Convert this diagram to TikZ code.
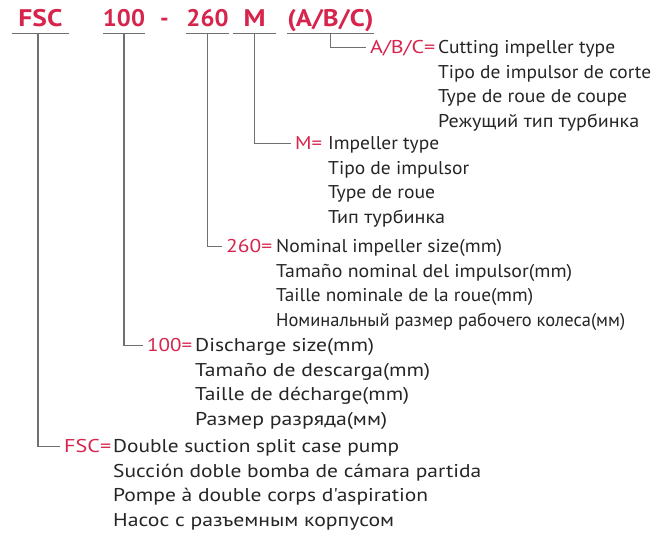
\documentclass[tikz,border=0pt]{standalone}
\usepackage{fontspec}
\setmainfont{PT Sans}[Ligatures=TeXOff]
\usepackage{graphicx}
\usetikzlibrary{positioning}
\definecolor{codered}{RGB}{214,36,76}
\definecolor{linegray}{RGB}{112,112,112}
\definecolor{textgray}{RGB}{38,36,36}
\newcommand{\fitw}[2]{\resizebox{#1pt}{\height}{#2}}

\begin{document}
\begin{tikzpicture}[x=1pt, y=-1pt,
	hdr/.style={font=\fontsize{24}{28}\selectfont\bfseries, text=codered, inner xsep=0pt, inner ysep=6pt, text depth=0pt, anchor=base},
	lbl/.style={font=\fontsize{18.5}{22}\selectfont, text=codered, inner xsep=4pt, inner ysep=0pt, text height=13pt, text depth=0pt, anchor=base west},
	txt/.style={font=\fontsize{18.5}{22}\selectfont, text=textgray, inner sep=0pt, anchor=base west},
	conn/.style={draw=linegray, line width=1.2pt}]
	\useasboundingbox (0,0) rectangle (654,534);
	
	% model code
	\node[hdr, minimum width=57pt] (fsc) at (40.5,27) {\fitw{44}{FSC}};
	\node[hdr, minimum width=34pt] (dis) at (124,27) {\fitw{42}{100}};
	\node[hdr] (dash) at (164.5,27) {-};
	\node[hdr, minimum width=39pt] (size) at (207.5,27) {\fitw{42}{260}};
	\node[hdr, minimum width=43pt] (imp) at (254.5,27) {\fitw{22}{M}};
	\node[hdr, minimum width=83pt] (cut) at (330.5,27) {\fitw{86}{(A/B/C)}};
	\foreach \n in {fsc,dis,size,imp,cut}
		\draw[conn] (\n.south west) -- (\n.south east);
	
	% A/B/C
	\node[lbl] (cutL) at (366,54) {\fitw{65}{A/B/C=}};
	\node[txt] (cut1) at (438,54) {\fitw{177}{Cutting impeller type}};
	\node[txt, below=24.4pt of cut1.base west, anchor=base west] (cut2) {\fitw{213}{Tipo de impulsor de corte}};
	\node[txt, below=24.4pt of cut2.base west, anchor=base west] (cut3) {\fitw{189}{Type de roue de coupe}};
	\node[txt, below=24.4pt of cut3.base west, anchor=base west] (cut4) {\fitw{201}{Режущий тип турбинка}};
	
	% M
	\node[lbl] (impL) at (291,150) {\fitw{27}{M=}};
	\node[txt] (imp1) at (328,150) {\fitw{111}{Impeller type}};
	\node[txt, below=24.4pt of imp1.base west, anchor=base west] (imp2) {\fitw{141}{Tipo de impulsor}};
	\node[txt, below=24.4pt of imp2.base west, anchor=base west] (imp3) {\fitw{107}{Type de roue}};
	\node[txt, below=24.4pt of imp3.base west, anchor=base west] (imp4) {\fitw{117}{Тип турбинка}};
	
	% 260
	\node[lbl] (sizeL) at (222,253) {\fitw{46}{260=}};
	\node[txt] (size1) at (276,253) {\fitw{226}{Nominal impeller size(mm)}};
	\node[txt, below=24.4pt of size1.base west, anchor=base west] (size2) {\fitw{296}{Tamaño nominal del impulsor(mm)}};
	\node[txt, below=24.4pt of size2.base west, anchor=base west] (size3) {\fitw{257}{Taille nominale de la roue(mm)}};
	\node[txt, below=24.4pt of size3.base west, anchor=base west] (size4) {\fitw{349}{Номинальный размер рабочего колеса(мм)}};
	
	% 100
	\node[lbl] (disL) at (143,352) {\fitw{45}{100=}};
	\node[txt] (dis1) at (195,352) {\fitw{179}{Discharge size(mm)}};
	\node[txt, below=24.4pt of dis1.base west, anchor=base west] (dis2) {\fitw{235}{Tamaño de descarga(mm)}};
	\node[txt, below=24.4pt of dis2.base west, anchor=base west] (dis3) {\fitw{214}{Taille de décharge(mm)}};
	\node[txt, below=24.4pt of dis3.base west, anchor=base west] (dis4) {\fitw{192}{Размер разряда(мм)}};
	
	% FSC
	\node[lbl] (fscL) at (60,453) {\fitw{47}{FSC=}};
	\node[txt] (fsc1) at (113,453) {\fitw{286}{Double suction split case pump}};
	\node[txt, below=24.4pt of fsc1.base west, anchor=base west] (fsc2) {\fitw{368}{Succión doble bomba de cámara partida}};
	\node[txt, below=24.4pt of fsc2.base west, anchor=base west] (fsc3) {\fitw{315}{Pompe à double corps d'aspiration}};
	\node[txt, below=24.4pt of fsc3.base west, anchor=base west] (fsc4) {\fitw{281}{Насос с разъемным корпусом}};
	
	% leaders
	\draw[conn] (cut.south) |- (cutL.west);
	\draw[conn] (imp.south) |- (impL.west);
	\draw[conn] (size.south) |- (sizeL.west);
	\draw[conn] (dis.south) |- (disL.west);
	\draw[conn] ([xshift=-2.5pt]fsc.south) |- (fscL.west);
\end{tikzpicture}
\end{document}
